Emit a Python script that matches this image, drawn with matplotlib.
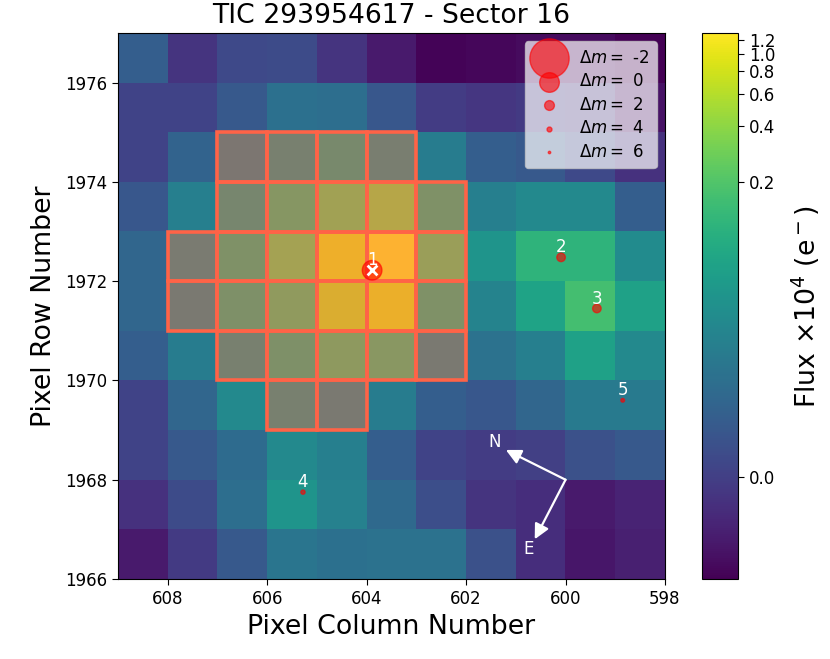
import numpy as np
import matplotlib
matplotlib.use("Agg")
import matplotlib.pyplot as plt
from matplotlib.colors import FuncNorm, to_rgba
from matplotlib.patches import Rectangle

# flux per pixel (x 10^4 e-), top row first, left column first
flux = [
    [0.042, -0.014, 0.012, 0.016, -0.014, -0.043, -0.066, -0.062, -0.058, -0.058, -0.069],
    [0.005, 0.005, 0.034, 0.068, 0.064, 0.031, -0.003, -0.010, -0.006, -0.014, -0.051],
    [0.005, 0.049, 0.097, 0.123, 0.146, 0.116, 0.086, 0.042, 0.034, 0.012, -0.017],
    [0.031, 0.090, 0.138, 0.179, 0.275, 0.382, 0.168, 0.090, 0.105, 0.105, 0.042],
    [0.053, 0.109, 0.168, 0.284, 0.994, 1.300, 0.225, 0.123, 0.171, 0.171, 0.109],
    [0.053, 0.105, 0.164, 0.194, 0.705, 0.929, 0.168, 0.097, 0.146, 0.190, 0.142],
    [0.042, 0.086, 0.123, 0.164, 0.190, 0.183, 0.105, 0.071, 0.090, 0.142, 0.105],
    [0.005, 0.053, 0.105, 0.123, 0.105, 0.086, 0.042, 0.031, 0.053, 0.083, 0.083],
    [0.005, 0.034, 0.060, 0.105, 0.090, 0.042, 0.005, -0.003, 0.001, 0.023, 0.034],
    [-0.017, 0.016, 0.064, 0.123, 0.094, 0.057, 0.020, -0.014, -0.021, -0.043, -0.032],
    [-0.043, -0.006, 0.034, 0.075, 0.068, 0.071, 0.071, 0.023, -0.021, -0.047, -0.036],
]

# aperture pixels: lower row edge -> left-hand column edges (col = right edge of the pixel)
aperture = {
    1974: [606, 605, 604, 603],
    1973: [606, 605, 604, 603, 602],
    1972: [607, 606, 605, 604, 603, 602],
    1971: [607, 606, 605, 604, 603, 602],
    1970: [606, 605, 604, 603, 602],
    1969: [605, 604],
}

star_ids = [1, 2, 3, 4, 5]
star_col = [603.89, 600.09, 599.37, 605.28, 598.85]
star_row = [1972.22, 1972.48, 1971.45, 1967.75, 1969.60]
star_dm = [0.0, 2.4, 2.4, 4.4, 4.8]

legend_dm = [-2, 0, 2, 4, 6]

cbar_ticks = [0.0, 0.2, 0.4, 0.6, 0.8, 1.0, 1.2]
# stretch of the colour scale
stretch_val = [-0.069, 0.0, 0.2, 0.4, 0.6, 0.8, 1.0, 1.2, 1.3]
stretch_frac = [0.0, 0.187, 0.727, 0.829, 0.888, 0.930, 0.961, 0.987, 1.0]


def dm_size(dm):
    return 200.0 / 2.0 ** np.asarray(dm, dtype=float)


def forward(v):
    return np.interp(v, stretch_val, stretch_frac)


def inverse(f):
    return np.interp(f, stretch_frac, stretch_val)


W, H = 830, 659
fig = plt.figure(figsize=(W / 100, H / 100), dpi=100)
ax = fig.add_axes([118 / W, 1 - 579 / H, 547 / W, 546 / H])
cax = fig.add_axes([702 / W, 1 - 579 / H, 36 / W, 546 / H])

norm = FuncNorm((forward, inverse), vmin=-0.069, vmax=1.3)
im = ax.imshow(flux, cmap="viridis", norm=norm, origin="upper", aspect="auto",
               extent=[609, 598, 1966, 1977], interpolation="nearest")

for row, cols in aperture.items():
    for col in cols:
        ax.add_patch(Rectangle((col, row), 1, 1, facecolor=to_rgba("tomato", 0.4),
                               edgecolor="tomato", lw=2.6, zorder=3))

ax.scatter(star_col, star_row, s=dm_size(star_dm), c="red", alpha=0.6,
           edgecolors="red", zorder=5)
ax.scatter(star_col[0], star_row[0], marker="x", c="white", s=50, lw=2, zorder=6)
for i, c, r in zip(star_ids, star_col, star_row):
    ax.text(c, r + 0.2, str(i), color="white", ha="center", va="center",
            fontsize=12, zorder=7)

# compass
ax.annotate("", xy=(601.2, 1968.6), xytext=(600.0, 1968.0), zorder=7,
            arrowprops=dict(arrowstyle="-|>,head_length=0.9,head_width=0.45",
                            color="white", lw=1.6, shrinkA=0, shrinkB=0))
ax.annotate("", xy=(600.62, 1966.8), xytext=(600.0, 1968.0), zorder=7,
            arrowprops=dict(arrowstyle="-|>,head_length=0.9,head_width=0.45",
                            color="white", lw=1.6, shrinkA=0, shrinkB=0))
ax.text(601.43, 1968.77, "N", color="white", ha="center", va="center", fontsize=12, zorder=7)
ax.text(600.75, 1966.6, "E", color="white", ha="center", va="center", fontsize=12, zorder=7)

handles = [ax.scatter([], [], s=dm_size(d), c="red", alpha=0.6, edgecolors="red",
                      label="$\\Delta m=$ %d" % d) for d in legend_dm]
ax.legend(handles=handles, loc="upper right", fontsize=12, framealpha=0.7,
          labelspacing=0.33, borderpad=0.45, handletextpad=0.8, scatterpoints=1)

ax.set_xlim(609, 598)
ax.set_ylim(1966, 1977)
ax.set_xticks([608, 606, 604, 602, 600, 598])
ax.set_yticks([1966, 1968, 1970, 1972, 1974, 1976])
ax.set_xticklabels(["608", "606", "604", "602", "600", "598"])
ax.set_yticklabels(["1966", "1968", "1970", "1972", "1974", "1976"])
ax.tick_params(labelsize=12, length=4.3)
ax.set_xlabel("Pixel Column Number", fontsize=19.3, labelpad=4.5)
ax.set_ylabel("Pixel Row Number", fontsize=19.3, labelpad=6)
ax.set_title("TIC 293954617 - Sector 16", fontsize=19.2, pad=7)

cb = fig.colorbar(im, cax=cax, ticks=cbar_ticks)
cb.ax.minorticks_off()
cb.ax.tick_params(labelsize=12, length=4.3)
cb.set_label("Flux $\\times 10^4$ (e$^-$)", fontsize=19.3, labelpad=10)

fig.savefig("out.png", dpi=100)
